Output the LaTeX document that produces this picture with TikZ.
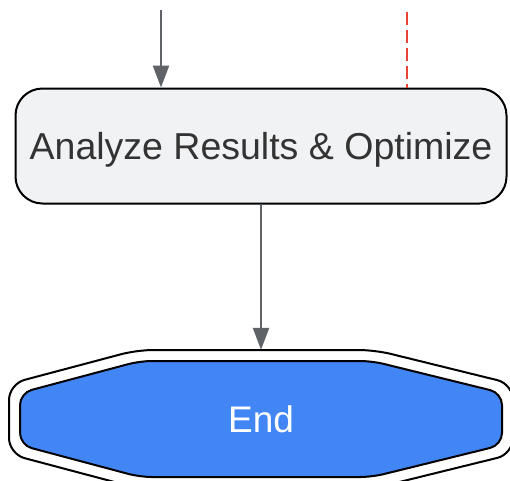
\documentclass[tikz,border=0pt]{standalone}
\usepackage{fontspec}
\setmainfont{Liberation Sans}
\usetikzlibrary{arrows.meta}
\definecolor{boxfill}{HTML}{F1F2F4}
\definecolor{flowgray}{HTML}{5F6368}
\definecolor{endblue}{HTML}{4285F4}
\definecolor{dashred}{HTML}{EA4335}
\definecolor{textgray}{HTML}{333333}
\tikzset{my step/.style = {draw=black, line width=2pt, fill=boxfill,
  rounded corners=27pt, minimum width=491pt, minimum height=115pt,
  text=textgray, text depth=0pt, font=\fontsize{37.5}{40}\selectfont},
  my flow/.style = {draw=flowgray, line width=2.4pt,
  -{Triangle[width=16pt,length=22pt]}},
  my dash/.style = {draw=dashred, line width=2.4pt, dash pattern=on 13pt off 5pt}}

\begin{document}
\begin{tikzpicture}[x=1pt,y=-1pt]
  \useasboundingbox (0,0) rectangle (510,480);
  \node[my step] (AR) at (261,146) {Analyze Results \& Optimize};
  \coordinate (in1) at (161,10);
  \coordinate (in2) at (407,12);
  \path (in1) edge [my flow] (in1 |- AR.north);
  \path (in2) edge [my dash] (in2 |- AR.north);
  % end terminal, double outline
  \draw[line width=2pt, fill=white, rounded corners=16pt]
    (137,350) -- (375,350) -- (513,384) -- (513,454) -- (375,488)
    -- (137,488) -- (9,454) -- (9,384) -- cycle;
  \draw[line width=2pt, fill=endblue, rounded corners=12pt]
    (140,361) -- (372,361) -- (502,393) -- (502,445) -- (372,477)
    -- (140,477) -- (20,445) -- (20,393) -- cycle;
  \node[text=white, font=\fontsize{37}{40}\selectfont,
    minimum height=138pt] (E) at (261,419) {End};
  \path (AR) edge [my flow] (E);
\end{tikzpicture}
\end{document}
